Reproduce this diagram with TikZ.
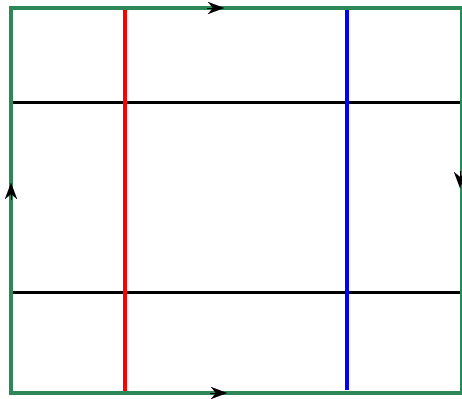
\documentclass[tikz,border=0pt]{standalone}
\usetikzlibrary{arrows.meta}
\definecolor{edgegreen}{RGB}{46,135,86}
\begin{document}
\begin{tikzpicture}[x=1pt,y=-1pt,
  frame/.style={edgegreen,line width=3.5pt},
  hline/.style={black,line width=3pt},
  vline/.style={line width=3.5pt},
  tip/.style={-{Stealth[length=16pt,width=12pt,inset=5pt]},black,line width=0.1pt,shorten <=0pt}]
\useasboundingbox (0,0) rectangle (462,398);
\fill[white] (0,0) rectangle (462,398);
\coordinate (tl) at (11,8);
\coordinate (tr) at (462,8);
\coordinate (bl) at (11,393);
\coordinate (br) at (462,393);
\draw[hline] (11,103) -- (462,103);
\draw[hline] (11,292) -- (462,292);
\draw[vline,red] (125,8) -- (125,393);
\draw[vline,blue] (347,6) -- (347,390);
\draw[frame] (tl) -- (tr) -- (br) -- (bl) -- cycle;
\draw[tip] (207,8) -- (224,8);
\draw[tip] (210,393) -- (227,393);
\draw[tip] (11,200) -- (11,183);
\draw[tip] (460,171) -- (460,188);
\end{tikzpicture}
\end{document}
